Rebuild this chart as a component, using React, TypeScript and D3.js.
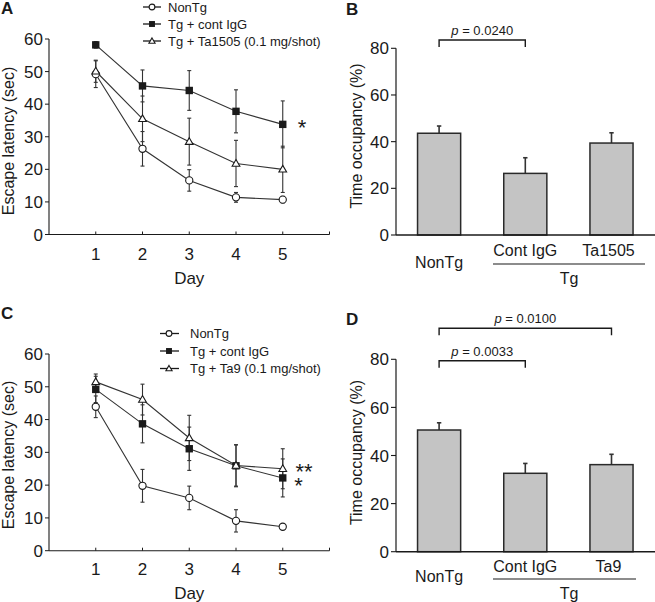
import React from "react";
import * as d3 from "d3";

// ---------- DATA ----------
const days = [1, 2, 3, 4, 5];
const dayTicks = [1, 2, 3, 4, 5];
const latencyTicks = [0, 10, 20, 30, 40, 50, 60];
const occupancyTicks = [0, 20, 40, 60, 80];

// Panel A
const aNonTg = [49.2, 26.3, 16.6, 11.4, 10.7];
const aNonTgErr = [4.1, 5.3, 3.3, 1.5, 1.0];
const aCont = [58.2, 45.6, 44.2, 37.8, 33.8];
const aContErr = [1.0, 4.9, 6.1, 6.6, 7.2];
const aTa1505 = [50.1, 35.5, 28.5, 21.8, 20.0];
const aTa1505Err = [3.4, 7.0, 7.2, 7.1, 7.1];
const aLegend = ["NonTg", "Tg + cont IgG", "Tg + Ta1505 (0.1 mg/shot)"];

// Panel C
const cNonTg = [43.9, 19.8, 16.1, 9.1, 7.3];
const cNonTgErr = [3.3, 5.0, 3.6, 3.4, 0.5];
const cCont = [49.2, 38.7, 31.1, 25.9, 22.2];
const cContErr = [4.0, 5.8, 6.6, 6.4, 5.8];
const cTa9 = [51.5, 46.1, 34.4, 26.0, 25.0];
const cTa9Err = [2.4, 4.7, 6.9, 6.3, 6.1];
const cLegend = ["NonTg", "Tg + cont IgG", "Tg + Ta9 (0.1 mg/shot)"];

// Panel B
const bCategories = ["NonTg", "Cont IgG", "Ta1505"];
const bValues = [43.6, 26.4, 39.4];
const bErr = [3.1, 6.7, 4.4];

// Panel D
const dCategories = ["NonTg", "Cont IgG", "Ta9"];
const dValues = [50.6, 32.6, 36.2];
const dErr = [3.0, 4.1, 4.3];

const FONT = "'Liberation Sans', Arial, Helvetica, sans-serif";
const INK = "#1a1a1a";

type Series = { name: string; vals: number[]; errs: number[]; marker: "circle" | "square" | "triangle" };

function Marker({ kind, x, y, scale = 1 }: { kind: string; x: number; y: number; scale?: number }) {
  if (kind === "circle") {
    return <circle cx={x} cy={y} r={3.6 * scale} fill="#fff" stroke={INK} strokeWidth={1.1} />;
  }
  if (kind === "square") {
    const s = 7.4 * scale;
    return <rect x={x - s / 2} y={y - s / 2} width={s} height={s} fill={INK} />;
  }
  const path = d3.symbol().type(d3.symbolTriangle).size(26 * scale * scale)();
  return <path d={path || ""} transform={`translate(${x},${y + 0.5})`} fill="#fff" stroke={INK} strokeWidth={1.1} />;
}

function LinePanel(props: {
  y0: number;
  y60: number;
  series: Series[];
  legend: string[];
  legendY: number[];
  legendLine: [number, number, number];
  legendTextX: number;
  letter: string;
  letterY: number;
  stars: { text: string; x: number; y: number }[];
  tickLabelY: number;
  dayY: number;
  titleY: number;
}) {
  const x = d3.scaleLinear().domain([0, 6]).range([49, 329.5]);
  const y = d3.scaleLinear().domain([0, 60]).range([props.y0, props.y60]);
  const line = d3
    .line<number>()
    .x((_, i) => x(days[i]))
    .y((v) => y(v));
  return (
    <g>
      <text x={1} y={props.letterY} fontSize={17} fontWeight="bold" fill={INK}>{props.letter}</text>
      {/* axes */}
      <line x1={x(0)} x2={x(0)} y1={y(0)} y2={y(60)} stroke={INK} strokeWidth={1.1} />
      <line x1={x(0)} x2={x(6)} y1={y(0)} y2={y(0)} stroke={INK} strokeWidth={1.1} />
      {latencyTicks.map((t) => (
        <g key={"yt" + t}>
          <line x1={x(0) - 4} x2={x(0)} y1={y(t)} y2={y(t)} stroke={INK} strokeWidth={1} />
          <text x={43} y={y(t)} dy="0.36em" textAnchor="end" fontSize={17} fill={INK}>{t}</text>
        </g>
      ))}
      {[...dayTicks, 6].map((t) => (
        <line key={"xt" + t} x1={x(t)} x2={x(t)} y1={y(0)} y2={y(0) - 3} stroke={INK} strokeWidth={1} />
      ))}
      {dayTicks.map((t) => (
        <text key={"xl" + t} x={x(t)} y={props.tickLabelY} textAnchor="middle" fontSize={17} fill={INK}>{t}</text>
      ))}
      <text x={x(3)} y={props.dayY} textAnchor="middle" fontSize={17} fill={INK}>Day</text>
      <text transform={`translate(14,${props.titleY}) rotate(-90)`} textAnchor="middle" fontSize={16} fill={INK}>
        Escape latency (sec)
      </text>
      {/* lines */}
      {props.series.map((s) => (
        <path key={"l" + s.name} d={line(s.vals) || ""} fill="none" stroke="#333" strokeWidth={1.1} />
      ))}
      {/* error bars */}
      {props.series.map((s) =>
        s.vals.map((v, i) => {
          const cx = x(days[i]);
          const hi = y(v + s.errs[i]);
          const lo = y(v - s.errs[i]);
          return (
            <g key={"e" + s.name + i} stroke="#333" strokeWidth={1.1}>
              <line x1={cx} x2={cx} y1={hi} y2={lo} />
              <line x1={cx - 2} x2={cx + 2} y1={hi} y2={hi} />
              <line x1={cx - 2} x2={cx + 2} y1={lo} y2={lo} />
            </g>
          );
        })
      )}
      {/* markers */}
      {props.series.map((s) =>
        s.vals.map((v, i) => <Marker key={"m" + s.name + i} kind={s.marker} x={x(days[i])} y={y(v)} />)
      )}
      {/* legend */}
      {props.series.map((s, i) => (
        <g key={"lg" + s.name}>
          <line x1={props.legendLine[0]} x2={props.legendLine[1]} y1={props.legendY[i]} y2={props.legendY[i]} stroke={INK} strokeWidth={1.3} />
          <Marker kind={s.marker} x={props.legendLine[2]} y={props.legendY[i]} scale={0.8} />
          <text x={props.legendTextX} y={props.legendY[i]} dy="0.36em" fontSize={13} fill={INK}>{props.legend[i]}</text>
        </g>
      ))}
      <text fontSize={22} fill={INK} textAnchor="middle">
        {props.stars.map((s, i) => (
          <tspan key={"st" + i} x={s.x} y={s.y}>{s.text}</tspan>
        ))}
      </text>
    </g>
  );
}

function BarPanel(props: {
  y0: number;
  y80: number;
  cats: string[];
  vals: number[];
  errs: number[];
  letter: string;
  letterY: number;
  titleY: number;
  catY: number;
  nonTgY: number;
  underlineY: number;
  tgY: number;
  underline: [number, number];
  brackets: { from: number; to: number; top: number; text: string; textY: number }[];
}) {
  const x = d3.scaleBand<string>().domain(props.cats).range([396, 654.6]).paddingInner(0.5).paddingOuter(0.25);
  const y = d3.scaleLinear().domain([0, 80]).range([props.y0, props.y80]);
  const bw = x.bandwidth();
  return (
    <g>
      <text x={346} y={props.letterY} fontSize={17} fontWeight="bold" fill={INK}>{props.letter}</text>
      <text transform={`translate(362,${props.titleY}) rotate(-90)`} textAnchor="middle" fontSize={16} fill={INK}>
        Time occupancy (%)
      </text>
      {props.cats.map((c, i) => {
        const bx = x(c) as number;
        const cx = bx + bw / 2;
        const top = y(props.vals[i]);
        const et = y(props.vals[i] + props.errs[i]);
        return (
          <g key={"b" + c}>
            <line x1={cx} x2={cx} y1={top} y2={et} stroke="#333" strokeWidth={1.6} />
            <line x1={cx - 2.2} x2={cx + 2.2} y1={et} y2={et} stroke="#333" strokeWidth={1.6} />
            <rect x={bx} y={top} width={bw} height={y(0) - top} fill="#c4c4c4" stroke="#2a2a2a" strokeWidth={1.5} />
          </g>
        );
      })}
      <line x1={396} x2={396} y1={y(0)} y2={y(80)} stroke={INK} strokeWidth={1.2} />
      <line x1={396} x2={655} y1={y(0)} y2={y(0)} stroke={INK} strokeWidth={1.4} />
      {occupancyTicks.map((t) => (
        <g key={"yt" + t}>
          <line x1={391} x2={396} y1={y(t)} y2={y(t)} stroke={INK} strokeWidth={1.1} />
          <text x={389} y={y(t)} dy="0.36em" textAnchor="end" fontSize={17} fill={INK}>{t}</text>
        </g>
      ))}
      {props.cats.map((c, i) => (
        <text
          key={"cl" + c}
          x={(x(c) as number) + bw / 2 - (i === 2 ? 3 : 0)}
          y={i === 0 ? props.nonTgY : props.catY}
          textAnchor="middle"
          fontSize={16}
          fill={INK}
        >
          {c}
        </text>
      ))}
      <line x1={props.underline[0]} x2={props.underline[1]} y1={props.underlineY} y2={props.underlineY} stroke={INK} strokeWidth={1.1} />
      <text x={569} y={props.tgY} textAnchor="middle" fontSize={16} fill={INK}>Tg</text>
      {props.brackets.map((b, i) => {
        const x1 = (x(props.cats[b.from]) as number) + bw / 2;
        const x2 = (x(props.cats[b.to]) as number) + bw / 2;
        return (
          <g key={"br" + i}>
            <path d={`M${x1},${b.top + 7}V${b.top}H${x2}V${b.top + 7}`} fill="none" stroke={INK} strokeWidth={1.4} />
            <text x={(x1 + x2) / 2} y={b.textY} textAnchor="middle" fontSize={13} fill={INK}>
              <tspan fontStyle="italic">p</tspan> = {b.text}
            </text>
          </g>
        );
      })}
    </g>
  );
}

export default function App() {
  const aSeries: Series[] = [
    { name: "nontg", vals: aNonTg, errs: aNonTgErr, marker: "circle" },
    { name: "cont", vals: aCont, errs: aContErr, marker: "square" },
    { name: "ta", vals: aTa1505, errs: aTa1505Err, marker: "triangle" },
  ];
  const cSeries: Series[] = [
    { name: "nontg", vals: cNonTg, errs: cNonTgErr, marker: "circle" },
    { name: "cont", vals: cCont, errs: cContErr, marker: "square" },
    { name: "ta", vals: cTa9, errs: cTa9Err, marker: "triangle" },
  ];
  return (
    <svg
      width={655}
      height={602}
      style={{ position: "absolute", left: 0, top: 0, background: "#fff" }}
      fontFamily={FONT}
    >
      <rect width={655} height={602} fill="#fff" />
      <LinePanel
        y0={234.5}
        y60={39}
        series={aSeries}
        legend={aLegend}
        legendY={[7, 24, 41]}
        legendLine={[143, 161, 152]}
        legendTextX={168}
        letter="A"
        letterY={14}
        stars={[{ text: "*", x: 302, y: 135 }]}
        tickLabelY={259.5}
        dayY={284}
        titleY={141}
      />
      <LinePanel
        y0={550.7}
        y60={354}
        series={cSeries}
        legend={cLegend}
        legendY={[333.5, 351, 368.5]}
        legendLine={[160, 179, 169]}
        legendTextX={190}
        letter="C"
        letterY={319}
        stars={[
          { text: "**", x: 304, y: 479 },
          { text: "*", x: 298.5, y: 492.5 },
        ]}
        tickLabelY={574.5}
        dayY={599}
        titleY={455}
      />
      <BarPanel
        y0={235}
        y80={48.3}
        cats={bCategories}
        vals={bValues}
        errs={bErr}
        letter="B"
        letterY={15}
        titleY={136}
        catY={255.7}
        nonTgY={267.5}
        underlineY={264}
        tgY={284}
        underline={[493, 645]}
        brackets={[{ from: 0, to: 1, top: 40, text: "0.0240", textY: 34.7 }]}
      />
      <BarPanel
        y0={551.7}
        y80={359.3}
        cats={dCategories}
        vals={dValues}
        errs={dErr}
        letter="D"
        letterY={325}
        titleY={452.5}
        catY={572.4}
        nonTgY={582.4}
        underlineY={579}
        tgY={599}
        underline={[493, 636]}
        brackets={[
          { from: 0, to: 1, top: 360.7, text: "0.0033", textY: 356.4 },
          { from: 0, to: 2, top: 328.3, text: "0.0100", textY: 323 },
        ]}
      />
    </svg>
  );
}
